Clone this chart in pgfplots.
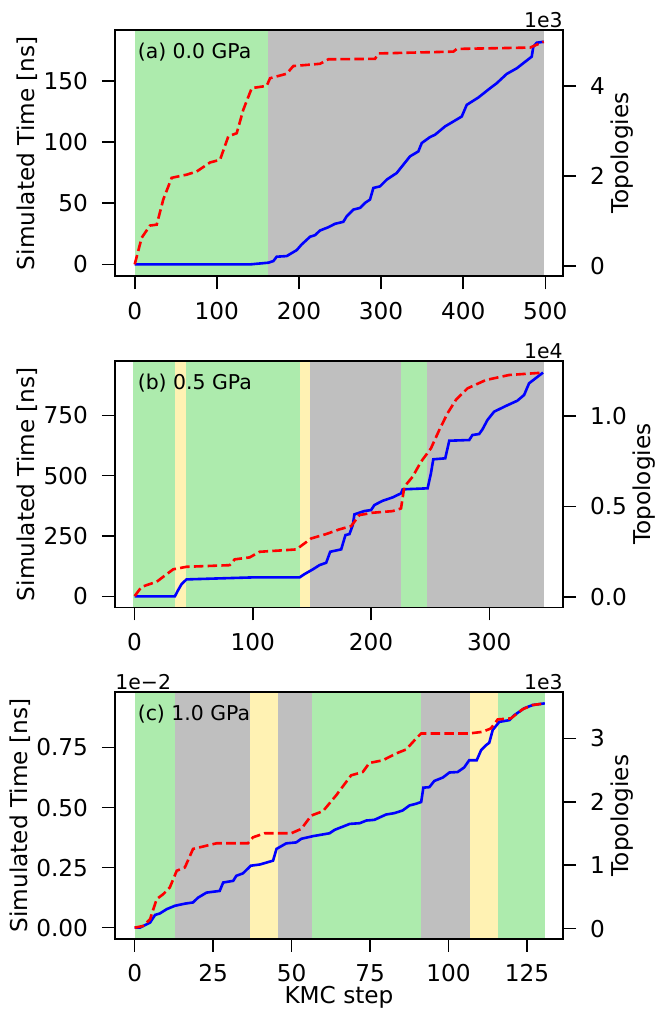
\documentclass[border=0pt]{standalone}
\usepackage{fontspec}
\setmainfont{DejaVu Sans}
\usepackage{pgfplots}
\pgfplotsset{compat=1.18}
\definecolor{sgreen}{HTML}{ADEBAD}
\definecolor{sgray}{HTML}{BFBFBF}
\definecolor{syellow}{HTML}{FFF2B3}
\newcommand{\fs}{\fontsize{11.6}{13.5}\selectfont}
\newcommand{\fa}{\fontsize{10.2}{12}\selectfont}
\pgfplotsset{
  common/.style={
    scale only axis, width=224pt, height=123.2pt,
    font=\fs, ticklabel style={font=\fs}, label style={font=\fs},
    /pgf/number format/assume math mode=true,
    scaled ticks=false, clip mode=individual,
    tick align=outside, major tick length=6.5pt,
    tick style={line width=0.8pt, black},
    axis line style={line width=0.9pt},
    xticklabel style={yshift=-2.8pt},
    ylabel shift=-4pt, xlabel shift=-2.5pt,
    xlabel style={inner sep=1pt},
  },
  panel/.style={common, axis on top, tick pos=left, yticklabel style={xshift=-3.5pt}},
  twin/.style={common, axis y line*=right, axis x line=none, yticklabel style={xshift=3.5pt}},
  blueline/.style={blue, line width=1.3pt},
  redline/.style={red, line width=1.3pt, dash pattern=on 4.8pt off 2.1pt},
  sh/.style={draw=none, fill=#1, forget plot},
}
\begin{document}
\begin{tikzpicture}
\useasboundingbox (0,0) rectangle (332.5pt,-505.5pt);
% ---------------- panel (a)
\begin{axis}[panel, at={(57.5pt,-15pt)}, anchor=north west,
  xmin=-24, xmax=521.5, ymin=-9.8, ymax=191.6,
  xtick={0,100,200,300,400,500}, ytick={0,50,100,150},
  ylabel={Simulated Time [ns]}]
\addplot[sh=sgreen] coordinates {(0,-50) (162.7,-50) (162.7,300) (0,300)} --cycle;
\addplot[sh=sgray] coordinates {(162.7,-50) (498,-50) (498,300) (162.7,300)} --cycle;
\addplot[blueline] coordinates {
(0,0) (140.4,0) (162.7,1.4) (168.8,2.7) (172.9,6.3) (185,6.8) (197.3,11.7) (203.3,16.3)
(213.5,22.6) (219.5,23.9) (225.6,27.7) (235.8,30.4) (243.9,33.2) (254,34.8) (258.2,39.4)
(266.3,44.8) (274.4,46.2) (280.5,50.3) (286.5,53) (290.6,62.5) (298.7,63.8) (306.9,69.3)
(319,74.7) (327.1,81.5) (335.2,88.3) (345.4,92.4) (349.5,99.2) (359.6,104.1) (365.7,106)
(377.9,112.8) (388,116.8) (398.2,120.9) (404.3,130.4) (418.4,136.4) (432.7,144) (440.8,148.1)
(453,155.7) (465.2,160.3) (483.4,169.8) (485.4,178) (489.5,181.2) (498,182)};
\node[anchor=north west, inner sep=0pt, font=\fa] at (rel axis cs:0.05,0.95) {(a) 0.0 GPa};
\end{axis}
\begin{axis}[twin, at={(57.5pt,-15pt)}, anchor=north west,
  xmin=-24, xmax=521.5, ymin=-0.228, ymax=5.24,
  ytick={0,2,4}, ylabel={Topologies}]
\addplot[redline] coordinates {
(0,0.04) (8.5,0.63) (18.6,0.90) (26.8,0.92) (34.8,1.48) (45,1.96) (63.3,2.03) (75.5,2.10)
(91.7,2.30) (103.9,2.36) (114,2.88) (124.2,2.95) (132.2,3.47) (142.5,3.95) (160.7,4.00)
(164.8,4.17) (185.1,4.27) (193.1,4.44) (225.6,4.49) (235.8,4.59) (292.6,4.60) (296.7,4.72)
(388,4.76) (392.1,4.82) (481.4,4.85) (498,4.98)};
\node[anchor=south east, inner sep=0pt, font=\fa, yshift=1pt] at (rel axis cs:1,1) {1e3};
\end{axis}
% ---------------- panel (b)
\begin{axis}[panel, at={(57.5pt,-180.5pt)}, anchor=north west,
  xmin=-16.6, xmax=362.3, ymin=-45.6, ymax=975,
  xtick={0,100,200,300}, ytick={0,250,500,750},
  ylabel={Simulated Time [ns]}]
\addplot[sh=sgreen] coordinates {(-1,-100) (34,-100) (34,1100) (-1,1100)} --cycle;
\addplot[sh=syellow] coordinates {(34,-100) (43.3,-100) (43.3,1100) (34,1100)} --cycle;
\addplot[sh=sgreen] coordinates {(43.3,-100) (139.5,-100) (139.5,1100) (43.3,1100)} --cycle;
\addplot[sh=syellow] coordinates {(139.5,-100) (148.2,-100) (148.2,1100) (139.5,1100)} --cycle;
\addplot[sh=sgray] coordinates {(148.2,-100) (225.6,-100) (225.6,1100) (148.2,1100)} --cycle;
\addplot[sh=sgreen] coordinates {(225.6,-100) (247.5,-100) (247.5,1100) (225.6,1100)} --cycle;
\addplot[sh=sgray] coordinates {(247.5,-100) (346,-100) (346,1100) (247.5,1100)} --cycle;
\addplot[blueline] coordinates {
(0,0) (34,0) (36.8,26) (39.7,51) (43.9,70.4) (72,74.6) (100.1,78.7) (139.5,78.7)
(143.7,92.4) (150.7,111.9) (156.4,129.7) (162,139.3) (165.4,184.8) (174.7,194.8)
(178.3,254) (181.7,258.2) (184.5,295.5) (185.9,339.8) (194.3,353.5) (200,357.6)
(202.8,378.4) (209.8,396.2) (218.2,410) (225.3,426.8) (226.7,443.4) (247.8,447.6)
(250.6,509.7) (252.6,567.8) (262.7,571.9) (266.1,644.8) (283,647.7) (285.7,668.4)
(291.4,672.6) (294.2,692) (298.4,730.6) (304,765) (313.9,788.6) (323.7,810.6)
(329.4,834.2) (333.6,882.7) (345.4,927)};
\node[anchor=north west, inner sep=0pt, font=\fa] at (rel axis cs:0.05,0.95) {(b) 0.5 GPa};
\end{axis}
\begin{axis}[twin, at={(57.5pt,-180.5pt)}, anchor=north west,
  xmin=-16.6, xmax=362.3, ymin=-0.0587, ymax=1.3044,
  ytick={0,0.5,1}, yticklabel style={/pgf/number format/.cd, fixed, fixed zerofill, precision=1},
  ylabel={Topologies}]
\addplot[redline] coordinates {
(0,0.004) (5.9,0.055) (18.6,0.083) (32.6,0.152) (43.9,0.166) (80.4,0.175) (84.6,0.207)
(97.3,0.218) (105.7,0.249) (136.7,0.262) (149.4,0.323) (162,0.347) (173.2,0.373)
(183.1,0.391) (190.1,0.452) (201.4,0.465) (218.2,0.474) (225.3,0.489) (228.1,0.609)
(235.1,0.664) (242.2,0.747) (250.6,0.821) (257.6,0.922) (264.6,1.015) (271.7,1.089)
(281.5,1.153) (297,1.199) (316.7,1.227) (345.4,1.240)};
\node[anchor=south east, inner sep=0pt, font=\fa, yshift=1pt] at (rel axis cs:1,1) {1e4};
\end{axis}
% ---------------- panel (c)
\begin{axis}[panel, at={(57.5pt,-346.15pt)}, anchor=north west,
  xmin=-6.27, xmax=136.5, ymin=-0.046, ymax=0.98,
  xtick={0,25,50,75,100,125}, ytick={0,0.25,0.5,0.75},
  yticklabel style={/pgf/number format/.cd, fixed, fixed zerofill, precision=2},
  ylabel={Simulated Time [ns]}, xlabel={KMC step}]
\addplot[sh=sgreen] coordinates {(0,-1) (13,-1) (13,2) (0,2)} --cycle;
\addplot[sh=sgray] coordinates {(13,-1) (36.7,-1) (36.7,2) (13,2)} --cycle;
\addplot[sh=syellow] coordinates {(36.7,-1) (45.7,-1) (45.7,2) (36.7,2)} --cycle;
\addplot[sh=sgray] coordinates {(45.7,-1) (56.6,-1) (56.6,2) (45.7,2)} --cycle;
\addplot[sh=sgreen] coordinates {(56.6,-1) (91.2,-1) (91.2,2) (56.6,2)} --cycle;
\addplot[sh=sgray] coordinates {(91.2,-1) (106.9,-1) (106.9,2) (91.2,2)} --cycle;
\addplot[sh=syellow] coordinates {(106.9,-1) (115.7,-1) (115.7,2) (106.9,2)} --cycle;
\addplot[sh=sgreen] coordinates {(115.7,-1) (130.7,-1) (130.7,2) (115.7,2)} --cycle;
\addplot[blueline] coordinates {
(0,0) (1.7,0) (4.9,0.021) (6.5,0.053) (8,0.059) (10.2,0.077) (12.8,0.091) (16,0.100)
(18.6,0.105) (20.2,0.125) (22.9,0.146) (27.1,0.153) (28.2,0.188) (31.4,0.195) (32.4,0.216)
(34.5,0.226) (37,0.258) (39.9,0.263) (44.1,0.279) (45.2,0.328) (48.3,0.351) (51.5,0.355)
(53.1,0.370) (56.8,0.381) (62.1,0.393) (63.7,0.407) (68.5,0.432) (71.7,0.435) (73.8,0.446)
(76.4,0.449) (80.1,0.471) (82.8,0.477) (85.4,0.488) (87.6,0.509) (89.7,0.516) (91.3,0.523)
(92,0.583) (93.9,0.585) (95.5,0.611) (98.2,0.625) (100.3,0.646) (102.9,0.648) (105,0.667)
(106.6,0.697) (109,0.697) (110.4,0.739) (112,0.760) (113,0.770) (114.1,0.823) (116.2,0.857)
(119.4,0.864) (121,0.885) (124.1,0.913) (126.8,0.927) (130.7,0.934)};
\node[anchor=north west, inner sep=0pt, font=\fa] at (rel axis cs:0.05,0.95) {(c) 1.0 GPa};
\node[anchor=south west, inner sep=0pt, font=\fa, yshift=1pt] at (rel axis cs:0,1) {1e−2};
\end{axis}
\begin{axis}[twin, at={(57.5pt,-346.15pt)}, anchor=north west,
  xmin=-6.27, xmax=136.5, ymin=-0.158, ymax=3.728,
  ytick={0,1,2,3}, ylabel={Topologies}]
\addplot[redline] coordinates {
(0,0.016) (2.7,0.043) (4.9,0.149) (7,0.466) (9.1,0.545) (11.2,0.65) (13.4,0.914) (16,0.966)
(18.6,1.258) (26.1,1.347) (36.1,1.347) (37.7,1.441) (41.4,1.505) (49.9,1.505) (53.1,1.574)
(56.3,1.785) (60,1.853) (64.2,2.102) (69,2.419) (72.7,2.471) (74.8,2.614) (79.1,2.656)
(83.3,2.763) (86.5,2.826) (89.7,3.0) (91.3,3.079) (106.6,3.079) (110.9,3.105) (113.5,3.158)
(115.7,3.301) (119.9,3.317) (123.6,3.46) (126.8,3.527) (130.7,3.553)};
\node[anchor=south east, inner sep=0pt, font=\fa, yshift=1pt] at (rel axis cs:1,1) {1e3};
\end{axis}
\end{tikzpicture}
\end{document}
